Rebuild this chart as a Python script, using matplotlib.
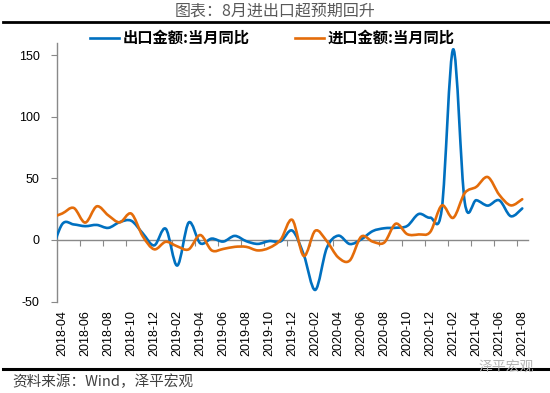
import matplotlib
matplotlib.use("Agg")
import matplotlib.pyplot as plt
from matplotlib.path import Path
from matplotlib.patches import PathPatch
from matplotlib.lines import Line2D
from matplotlib.font_manager import FontProperties

# ---------------- data ----------------
# first entry (2018-03) only feeds the lead-in of the curve at the left edge
months = ['2018-03', '2018-04', '2018-05', '2018-06', '2018-07', '2018-08', '2018-09',
          '2018-10', '2018-11', '2018-12', '2019-01', '2019-02', '2019-03', '2019-04',
          '2019-05', '2019-06', '2019-07', '2019-08', '2019-09', '2019-10', '2019-11',
          '2019-12', '2020-01', '2020-02', '2020-03', '2020-04', '2020-05', '2020-06',
          '2020-07', '2020-08', '2020-09', '2020-10', '2020-11', '2020-12', '2021-01',
          '2021-02', '2021-03', '2021-04', '2021-05', '2021-06', '2021-07', '2021-08']
export_yoy = [-12, 12.9, 12.6, 11.2, 12.2, 9.8, 14.5, 15.6, 5.4, -4.4,
              9.1, -20.8, 14.2, -2.7, 1.1, -1.3, 3.3, -1.0, -3.2, -0.9, -1.1, 7.6,
              -12.0, -40.6, -6.6, 3.5, -3.3, 0.5, 7.2, 9.5, 9.9, 11.4, 21.1, 18.1,
              24.9, 154.9, 30.6, 32.3, 27.9, 32.2, 19.3, 25.6]
import_yoy = [18, 21.5, 26.0, 14.1, 27.3, 20.0, 14.3, 21.4, 3.0, -7.6,
              -1.5, -5.2, -7.6, 4.0, -8.5, -7.3, -5.6, -5.6, -8.5, -6.4, 0.3, 16.3,
              -13.0, 7.5, -0.9, -14.2, -16.7, 2.7, -1.4, -2.1, 13.2, 4.7, 4.5, 6.5,
              28.0, 18.0, 38.1, 43.1, 51.1, 36.7, 28.1, 33.1]
tick_labels = ['2018-04', '2018-06', '2018-08', '2018-10', '2018-12', '2019-02',
               '2019-04', '2019-06', '2019-08', '2019-10', '2019-12', '2020-02',
               '2020-04', '2020-06', '2020-08', '2020-10', '2020-12', '2021-02',
               '2021-04', '2021-06', '2021-08']
series_names = ['出口金额:当月同比', '进口金额:当月同比']
y_ticks = [-50, 0, 50, 100, 150]

# ---------------- style ----------------
C_EXP = '#0070C0'
C_IMP = '#E46C0A'
GRAY = '#898989'
CJK = ['Noto Sans CJK SC', 'DejaVu Sans']
plt.rcParams['font.family'] = CJK

W, H = 550, 393
fig = plt.figure(figsize=(W / 100, H / 100), dpi=100)
ax = fig.add_axes([56.5 / W, (H - 301.5) / H, (528 - 56.5) / W, (301.5 - 43) / H])

# category positions: 2018-04 -> 0
xs = [i - 1 for i in range(len(months))]


def smooth_path(x, y):
    """Catmull-Rom style Bezier (Excel 'smoothed line'), drawn by matplotlib's Path."""
    n = len(x)
    verts = [(x[0], y[0])]
    codes = [Path.MOVETO]
    for i in range(n - 1):
        x0, y0 = (x[i - 1], y[i - 1]) if i > 0 else (x[i], y[i])
        x1, y1 = x[i], y[i]
        x2, y2 = x[i + 1], y[i + 1]
        x3, y3 = (x[i + 2], y[i + 2]) if i + 2 < n else (x2, y2)
        c1 = (x1 + (x2 - x0) / 6, y1 + (y2 - y0) / 6)
        c2 = (x2 - (x3 - x1) / 6, y2 - (y3 - y1) / 6)
        verts += [c1, c2, (x2, y2)]
        codes += [Path.CURVE4] * 3
    return Path(verts, codes)


for vals, col in [(export_yoy, C_EXP), (import_yoy, C_IMP)]:
    patch = PathPatch(smooth_path(xs, vals), facecolor='none', edgecolor=col,
                      lw=1.9, zorder=3, capstyle='round', joinstyle='round')
    ax.add_patch(patch)

ax.set_xlim(-0.5, 40.5)
ax.set_ylim(-50, 160)

# y axis
ax.set_yticks(y_ticks)
ax.set_yticklabels([str(v) for v in y_ticks], fontfamily='Liberation Sans', fontsize=9)
ax.tick_params(axis='y', direction='out', length=4, width=0.8, color=GRAY, pad=8,
               labelcolor='#000000')
for s in ['top', 'right', 'bottom']:
    ax.spines[s].set_visible(False)
ax.spines['left'].set_color(GRAY)
ax.spines['left'].set_linewidth(1.0)

# x labels at category centres (bottom of plot)
ax.set_xticks(list(range(0, 41, 2)))
ax.set_xticklabels(tick_labels, rotation=90, fontfamily='Liberation Sans', fontsize=9)
ax.tick_params(axis='x', length=0, pad=6, labelcolor='#000000')

# horizontal axis line at zero with boundary tick marks
sec = ax.secondary_xaxis(50 / 210)
sec.xaxis.set_ticks_position('bottom')
sec.set_xticks([i + 0.5 for i in range(1, 40, 2)])
sec.tick_params(axis='x', direction='out', length=4, width=0.8, color=GRAY,
                labelbottom=False, labeltop=False)
for s in ['top', 'left', 'right']:
    sec.spines[s].set_visible(False)
sec.spines['bottom'].set_color(GRAY)
sec.spines['bottom'].set_linewidth(1.0)
sec.set_zorder(1)

# legend
handles = [Line2D([], [], color=C_EXP, lw=1.9), Line2D([], [], color=C_IMP, lw=1.9)]
ax.legend(handles, series_names, loc='center left',
          bbox_to_anchor=(90 / W, (H - 38) / H), bbox_transform=fig.transFigure,
          ncol=2, frameon=False, handlelength=1.9, handletextpad=0.25,
          columnspacing=2.95, borderpad=0, borderaxespad=0,
          prop=FontProperties(family=CJK, weight='bold', size=11))

# title, rules, source
fig.text(0.5, (H - 11) / H, '图表：8月进出口超预期回升', ha='center', va='center',
         fontsize=11.5, color='#595959')
fig.add_artist(Line2D([3 / W, 1], [(H - 22) / H] * 2, color='black', lw=2.0,
                      transform=fig.transFigure))
fig.add_artist(Line2D([3 / W, 1], [(H - 369) / H] * 2, color='black', lw=2.2,
                      transform=fig.transFigure))
fig.text(12 / W, (H - 382) / H, '资料来源：Wind，泽平宏观', ha='left', va='center',
         fontsize=10.5, color='#404040', style='italic')
fig.text(506 / W, (H - 367) / H, '泽平宏观', ha='center', va='center',
         fontsize=10, color='#b5b5b5')

fig.savefig('out.png', dpi=100)
